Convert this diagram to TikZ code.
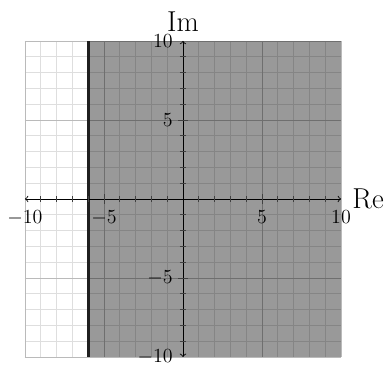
\documentclass[tikz,border=0pt]{standalone}
\begin{document}
\begin{tikzpicture}[x=9.48pt,y=9.48pt,
  minorgrid/.style={draw=black!13,line width=0.5pt},
  majorgrid/.style={draw=black!27,line width=0.5pt},
  shade/.style={fill=black,fill opacity=0.4},
  boundary/.style={draw=black!88,line width=1.6pt},
  axisline/.style={draw=black,line width=0.5pt,<->},
  tickmark/.style={draw=black!75,line width=0.4pt},
  ticklab/.style={font=\large,inner sep=2pt},
  axlab/.style={font=\LARGE,inner sep=1pt}]
\useasboundingbox (-11.58,-10.51) rectangle (13.10,12.59);
\draw[minorgrid,step={(1,1)}] (-10,-10) grid (10,10);
\draw[majorgrid,step={(5,5)}] (-10,-10) grid (10,10);
\fill[shade] (-6,-10) rectangle (10,10);
\draw[boundary] (-6,-10) -- (-6,10);
\coordinate (xl) at (-10,0);
\coordinate (xr) at (10,0);
\coordinate (yb) at (0,-10);
\coordinate (yt) at (0,10);
\draw[axisline] (xl) -- (xr);
\draw[axisline] (yb) -- (yt);
\foreach \i in {-9,...,-6,-4,-3,...,-1,1,2,...,4,6,7,...,9}{
  \draw[tickmark] (\i,-0.19) -- (\i,0.19);
  \draw[tickmark] (-0.19,\i) -- (0.19,\i);
}
\foreach \i in {-5,5}{
  \draw[tickmark] (\i,-0.3) -- (\i,0.3);
  \draw[tickmark] (-0.3,\i) -- (0.3,\i);
}
\node[axlab,anchor=west] (re) at (10.6,0) {Re};
\node[axlab,anchor=south] (im) at (0,10.45) {Im};
\node[ticklab,anchor=north] (xm10) at (-10,-0.5) {$-10$};
\node[ticklab,anchor=north] (xm5) at (-5,-0.5) {$-5$};
\node[ticklab,anchor=north] (x5) at (5,-0.5) {$5$};
\node[ticklab,anchor=north] (x10) at (10,-0.5) {$10$};
\node[ticklab,anchor=east] (ym10) at (-0.42,-10) {$-10$};
\node[ticklab,anchor=east] (ym5) at (-0.42,-5) {$-5$};
\node[ticklab,anchor=east] (y5) at (-0.42,5) {$5$};
\node[ticklab,anchor=east] (y10) at (-0.42,10) {$10$};
\end{tikzpicture}
\end{document}
